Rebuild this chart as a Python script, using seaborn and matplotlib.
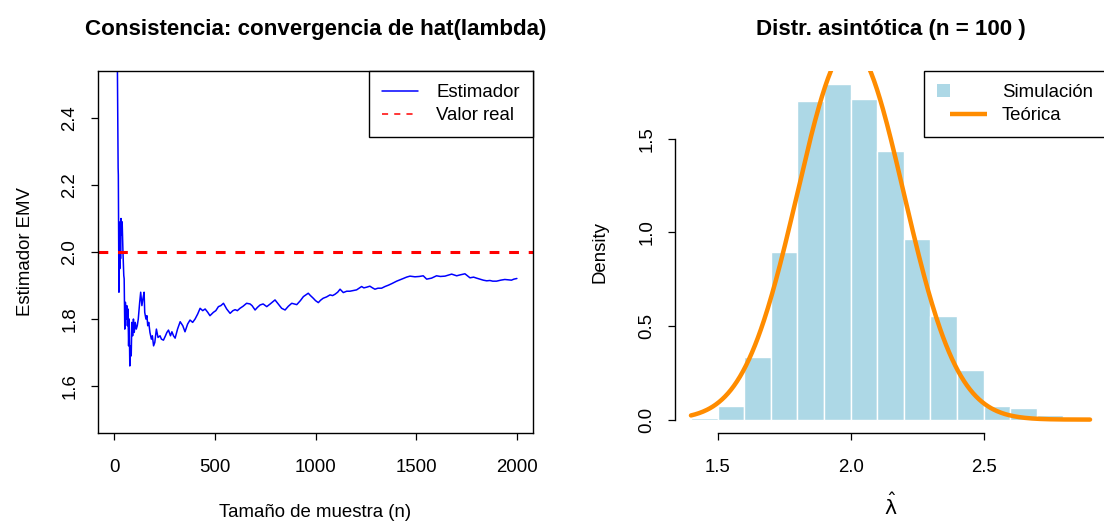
import numpy as np
import pandas as pd
import matplotlib
matplotlib.use("Agg")
import matplotlib.pyplot as plt
import seaborn as sns
from matplotlib.legend_handler import HandlerBase
from matplotlib.lines import Line2D
from matplotlib.patches import Rectangle

# ---------------------------------------------------------------- data
# Running maximum-likelihood estimate of lambda as the sample grows
sample_size = [
    1, 3, 6, 10, 14, 16, 18, 20, 21, 22, 24, 26, 28, 30, 32, 34, 36, 40, 44, 48,
    50, 53, 56, 60, 63, 66, 69, 72, 75, 78, 81, 85, 88, 92, 96, 100, 105, 110,
    115, 120, 127, 132, 138, 143, 149, 152, 158, 163, 167, 172, 178, 185, 190,
    196, 202, 210, 218, 228, 235, 245, 255, 262, 270, 280, 287, 295, 303, 315,
    328, 341, 352, 365, 377, 390, 402, 415, 427, 440, 452, 465, 476, 493, 505,
    518, 530, 543, 559, 576, 590, 601, 612, 625, 640, 658, 675, 685, 700, 712,
    725, 740, 758, 775, 799, 815, 832, 849, 865, 882, 895, 907, 925, 940, 964,
    975, 989, 1000, 1014, 1025, 1038, 1055, 1072, 1085, 1097, 1110, 1122, 1138,
    1155, 1171, 1188, 1204, 1229, 1240, 1254, 1270, 1283, 1295, 1310, 1328,
    1345, 1362, 1380, 1403, 1420, 1436, 1452, 1469, 1494, 1515, 1535, 1552,
    1576, 1601, 1620, 1643, 1660, 1676, 1701, 1720, 1742, 1767, 1785, 1800,
    1833, 1850, 1866, 1880, 1899, 1920, 1940, 1955, 1973, 1985, 2000,
]
estimate = [
    3.60, 3.00, 2.90, 2.75, 2.62, 2.58, 2.40, 2.25, 2.23, 2.10, 1.88, 2.05,
    1.95, 2.09, 1.98, 2.10, 2.05, 2.09, 2.00, 1.93, 1.92, 1.77, 1.85, 1.80,
    1.84, 1.78, 1.83, 1.72, 1.80, 1.66, 1.72, 1.69, 1.79, 1.75, 1.80, 1.76,
    1.79, 1.77, 1.78, 1.80, 1.85, 1.88, 1.84, 1.86, 1.88, 1.82, 1.80, 1.81,
    1.78, 1.79, 1.76, 1.74, 1.75, 1.72, 1.73, 1.77, 1.745, 1.75, 1.74, 1.737,
    1.75, 1.76, 1.767, 1.75, 1.762, 1.75, 1.743, 1.77, 1.792, 1.78, 1.762,
    1.785, 1.797, 1.79, 1.80, 1.815, 1.832, 1.825, 1.83, 1.82, 1.81, 1.82,
    1.825, 1.837, 1.84, 1.847, 1.83, 1.817, 1.825, 1.828, 1.825, 1.832, 1.838,
    1.847, 1.845, 1.84, 1.827, 1.835, 1.842, 1.845, 1.837, 1.845, 1.857,
    1.845, 1.832, 1.827, 1.838, 1.847, 1.845, 1.843, 1.855, 1.867, 1.877,
    1.87, 1.862, 1.855, 1.849, 1.856, 1.862, 1.866, 1.872, 1.87, 1.874, 1.88,
    1.889, 1.879, 1.883, 1.883, 1.885, 1.887, 1.897, 1.893, 1.895, 1.898,
    1.893, 1.889, 1.892, 1.892, 1.897, 1.901, 1.906, 1.913, 1.917, 1.921,
    1.925, 1.928, 1.926, 1.927, 1.929, 1.919, 1.922, 1.929, 1.927, 1.928,
    1.931, 1.934, 1.929, 1.932, 1.935, 1.923, 1.925, 1.922, 1.916, 1.914,
    1.915, 1.913, 1.913, 1.916, 1.918, 1.917, 1.916, 1.919, 1.921,
]
true_lambda = 2.0

# Simulated sampling distribution of the estimator (n = 100), density scale
bin_edges = [1.4, 1.5, 1.6, 1.7, 1.8, 1.9, 2.0, 2.1, 2.2, 2.3, 2.4, 2.5,
             2.6, 2.7, 2.8, 2.9]
bin_density = [0.007, 0.075, 0.333, 0.895, 1.70, 1.79, 1.71, 1.433, 0.963,
               0.554, 0.264, 0.075, 0.064, 0.025, 0.014]
n_sim = 100
asym_mean = 2.0
asym_sd = 0.2

left_xticks = [0, 500, 1000, 1500, 2000]
left_yticks = [1.6, 1.8, 2.0, 2.2, 2.4]
right_xticks = [1.5, 2.0, 2.5]
right_yticks = [0.0, 0.5, 1.0, 1.5]

# ---------------------------------------------------------------- style
sns.set_theme(style="white")
plt.rcParams["font.family"] = ["Liberation Sans", "DejaVu Sans"]
plt.rcParams["mathtext.fontset"] = "dejavusans"
plt.rcParams["axes.edgecolor"] = "black"
plt.rcParams["text.color"] = "black"
plt.rcParams["axes.labelcolor"] = "black"
plt.rcParams["xtick.color"] = "black"
plt.rcParams["ytick.color"] = "black"

FS = 13.4
W, H = 1104, 522
fig = plt.figure(figsize=(W / 100, H / 100), dpi=100)
ax1 = fig.add_axes([98 / W, (H - 433) / H, 435 / W, 362 / H])
ax2 = fig.add_axes([675 / W, (H - 433) / H, 431 / W, 362 / H])


def style_ticks(ax, xpad, ypad):
    ax.tick_params(axis="both", direction="out", length=5, width=0.9,
                   labelsize=FS, bottom=True, left=True)
    ax.tick_params(axis="x", pad=xpad)
    ax.tick_params(axis="y", pad=ypad, labelrotation=90)
    for lab in ax.get_yticklabels():
        lab.set_va("center")


# ---------------------------------------------------------------- left panel
df = pd.DataFrame({"n": sample_size, "est": estimate})
sns.lineplot(data=df, x="n", y="est", ax=ax1, color="#0000FF", lw=1.1,
             estimator=None, sort=False)
ax1.axhline(true_lambda, color="#FF0000", lw=2.2, ls=(0, (3.2, 3.2)))
ax1.set_xlim(-79.96, 2079.96)
ax1.set_ylim(1.46, 2.54)
ax1.set_xticks(left_xticks)
ax1.set_xticklabels([str(v) for v in left_xticks])
ax1.set_yticks(left_yticks)
ax1.set_yticklabels([f"{v:.1f}" for v in left_yticks])
for s in ax1.spines.values():
    s.set_visible(True)
    s.set_linewidth(1.0)
    s.set_color("black")
style_ticks(ax1, 14, 9)
ax1.set_xlabel("Tamaño de muestra (n)", fontsize=FS, labelpad=20)
ax1.set_ylabel("Estimador EMV", fontsize=FS, labelpad=20)
ax1.set_title("Consistencia: convergencia de hat(lambda)", fontsize=FS * 1.2,
              fontweight="bold", pad=26)

h_est = Line2D([], [], color="#0000FF", lw=1.1)
h_real = Line2D([], [], color="#FF0000", lw=1.1, ls=(0, (4, 4)))
leg1 = ax1.legend([h_est, h_real], ["Estimador", "Valor real"],
                  loc="upper right", borderaxespad=0, fontsize=FS,
                  frameon=True, fancybox=False, framealpha=1,
                  edgecolor="black", borderpad=0.7, labelspacing=0.32,
                  handlelength=1.95, handletextpad=1.0)
leg1.get_frame().set_linewidth(1.0)

# ---------------------------------------------------------------- right panel
centers = [(a + b) / 2 for a, b in zip(bin_edges[:-1], bin_edges[1:])]
sns.histplot(x=centers, weights=bin_density, bins=bin_edges, stat="count",
             ax=ax2, color="#ADD8E6", edgecolor="white", linewidth=1.0,
             alpha=1.0)
xs = np.linspace(bin_edges[0], bin_edges[-1], 400)
pdf = np.exp(-0.5 * ((xs - asym_mean) / asym_sd) ** 2) / (asym_sd * np.sqrt(2 * np.pi))
sns.lineplot(x=xs, y=pdf, ax=ax2, color="#FF8C00", lw=3.2)
ax2.set_xlim(1.34, 2.96)
ax2.set_ylim(-0.0716, 1.862)
ax2.set_xticks(right_xticks)
ax2.set_xticklabels([f"{v:.1f}" for v in right_xticks])
ax2.set_yticks(right_yticks)
ax2.set_yticklabels([f"{v:.1f}" for v in right_yticks])
for name, s in ax2.spines.items():
    s.set_visible(name in ("left", "bottom"))
    s.set_linewidth(1.0)
    s.set_color("black")
ax2.spines["left"].set_bounds(0.0, 1.5)
ax2.spines["bottom"].set_bounds(1.5, 2.5)
style_ticks(ax2, 14, 9)
ax2.set_xlabel(r"$\hat{\mathrm{\lambda}}$", fontsize=FS * 1.1, labelpad=12)
ax2.set_ylabel("Density", fontsize=FS, labelpad=22)
ax2.set_title(f"Distr. asintótica (n = {n_sim} )", fontsize=FS * 1.2,
              fontweight="bold", pad=26)


class BoxThenLine(HandlerBase):
    """Legend key: small filled square at the left or a line after it."""

    def __init__(self, kind, color, lw=0.0):
        super().__init__()
        self.kind = kind
        self.color = color
        self.lw = lw

    def create_artists(self, legend, orig_handle, xdescent, ydescent,
                       width, height, fontsize, trans):
        side = 0.7 * fontsize
        x0 = -xdescent
        if self.kind == "box":
            y0 = -ydescent + (height - side) / 2
            art = Rectangle((x0, y0), side, side, facecolor=self.color,
                            edgecolor="none", transform=trans)
        else:
            ym = -ydescent + height / 2
            art = Line2D([x0 + side, x0 + width], [ym, ym], color=self.color,
                         lw=self.lw, solid_capstyle="butt", transform=trans)
        return [art]


h_sim = Rectangle((0, 0), 1, 1)
h_teo = Line2D([], [])
leg2 = ax2.legend([h_sim, h_teo], ["Simulación", "Teórica"],
                  handler_map={h_sim: BoxThenLine("box", "#ADD8E6"),
                               h_teo: BoxThenLine("line", "#FF8C00", 3.2)},
                  loc="upper right", borderaxespad=0, fontsize=FS,
                  frameon=True, fancybox=False, framealpha=1,
                  edgecolor="black", borderpad=0.7, labelspacing=0.32,
                  handlelength=2.7, handletextpad=0.8)
leg2.get_frame().set_linewidth(1.0)

fig.savefig("out.png", dpi=100)
